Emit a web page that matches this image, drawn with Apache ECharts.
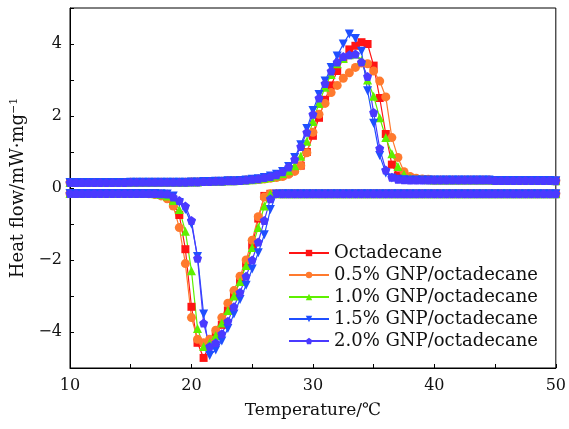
<!DOCTYPE html>
<html>
<head>
<meta charset="utf-8">
<script src="https://cdn.jsdelivr.net/npm/echarts@6/dist/echarts.min.js"></script>
<style>
  html, body { margin: 0; padding: 0; background: #fff; }
  #chart { width: 569px; height: 429px; }
</style>
</head>
<body>
<div id="chart"></div>
<script>
// temperature grid, degC
const temps = [10,10.5,11,11.5,12,12.5,13,13.5,14,14.5,
  15,15.5,16,16.5,17,17.5,18,18.5,19,19.5,
  20,20.5,21,21.5,22,22.5,23,23.5,24,24.5,
  25,25.5,26,26.5,27,27.5,28,28.5,29,29.5,
  30,30.5,31,31.5,32,32.5,33,33.5,34,34.5,
  35,35.5,36,36.5,37,37.5,38,38.5,39,39.5,
  40,40.5,41,41.5,42,42.5,43,43.5,44,44.5,
  45,45.5,46,46.5,47,47.5,48,48.5,49,49.5,50];

const names = ['Octadecane', '0.5% GNP/octadecane', '1.0% GNP/octadecane', '1.5% GNP/octadecane', '2.0% GNP/octadecane'];

// heating curves (upper)
const heatOcta = [.15,.15,.15,.15,.15,.15,.15,.15,.15,.15,
  .16,.16,.16,.16,.16,.16,.16,.16,.16,.16,
  .17,.17,.18,.18,.19,.19,.2,.2,.21,.22,
  .23,.24,.26,.28,.31,.35,.42,.52,.62,1.0,
  1.45,1.95,2.45,2.85,3.25,3.6,3.85,3.95,4.05,4.0,
  3.4,2.5,1.5,.65,.35,.3,.27,.25,.24,.23,
  .22,.22,.22,.22,.22,.22,.22,.22,.22,.22,
  .21,.21,.21,.21,.21,.21,.21,.21,.21,.21,.2];
const heatGnp05 = [.15,.15,.15,.15,.15,.15,.15,.15,.15,.15,
  .16,.16,.16,.16,.16,.16,.16,.16,.16,.16,
  .17,.17,.18,.18,.19,.19,.2,.2,.21,.22,
  .23,.24,.25,.27,.29,.32,.38,.46,.62,.98,
  1.55,2.05,2.35,2.65,2.85,3.05,3.2,3.35,3.47,3.45,
  3.25,2.97,2.53,1.4,.85,.45,.32,.27,.25,.24,
  .22,.22,.22,.22,.22,.22,.22,.22,.22,.22,
  .21,.21,.21,.21,.21,.21,.21,.21,.21,.21,.2];
const heatGnp10 = [.15,.15,.15,.15,.15,.15,.15,.15,.15,.15,
  .16,.16,.16,.16,.16,.16,.16,.16,.16,.16,
  .17,.17,.18,.18,.19,.19,.2,.2,.21,.22,
  .23,.25,.27,.3,.34,.4,.48,.62,.88,1.3,
  1.85,2.35,2.8,3.15,3.45,3.6,3.7,3.72,3.55,3.0,
  2.55,1.95,1.4,.95,.6,.38,.28,.25,.24,.23,
  .22,.22,.22,.22,.22,.22,.22,.22,.22,.22,
  .21,.21,.21,.21,.21,.21,.21,.21,.21,.21,.2];
const heatGnp15 = [.15,.15,.15,.15,.15,.15,.15,.15,.15,.15,
  .16,.16,.16,.16,.16,.16,.16,.16,.16,.16,
  .17,.17,.18,.18,.19,.19,.2,.2,.21,.22,
  .24,.26,.29,.33,.38,.46,.6,.85,1.2,1.65,
  2.15,2.6,2.97,3.35,3.67,4.0,4.28,4.15,3.8,2.7,
  1.8,.9,.42,.28,.24,.23,.22,.22,.22,.22,
  .22,.22,.22,.22,.22,.22,.22,.22,.22,.22,
  .21,.21,.21,.21,.21,.21,.21,.21,.21,.21,.2];
const heatGnp20 = [.15,.15,.15,.15,.15,.15,.15,.15,.15,.15,
  .16,.16,.16,.16,.16,.16,.16,.16,.16,.16,
  .17,.17,.18,.18,.19,.19,.2,.2,.21,.22,
  .24,.26,.29,.32,.37,.45,.58,.8,1.15,1.55,
  2.05,2.5,2.9,3.25,3.5,3.65,3.7,3.72,3.5,3.1,
  2.1,1.1,.5,.3,.24,.23,.22,.22,.22,.22,
  .22,.22,.22,.22,.22,.22,.22,.22,.22,.22,
  .21,.21,.21,.21,.21,.21,.21,.21,.21,.21,.2];

// cooling curves (lower)
const coolOcta = [-.15,-.15,-.15,-.15,-.15,-.15,-.15,-.15,-.15,-.15,
  -.15,-.15,-.15,-.15,-.16,-.18,-.25,-.4,-.75,-1.7,
  -3.3,-4.3,-4.72,-4.35,-4.1,-3.8,-3.4,-3.0,-2.55,-2.1,
  -1.6,-.85,-.22,-.16,-.16,-.16,-.16,-.16,-.16,-.16,
  -.16,-.16,-.16,-.16,-.16,-.16,-.16,-.16,-.16,-.16,
  -.16,-.16,-.16,-.16,-.16,-.16,-.16,-.16,-.16,-.16,
  -.16,-.16,-.16,-.16,-.16,-.16,-.16,-.16,-.16,-.16,
  -.16,-.16,-.16,-.16,-.16,-.16,-.16,-.16,-.16,-.16,-.16];
const coolGnp05 = [-.15,-.15,-.15,-.15,-.15,-.15,-.15,-.15,-.15,-.15,
  -.15,-.15,-.15,-.16,-.18,-.22,-.3,-.5,-1.1,-2.1,
  -3.6,-4.2,-4.3,-4.2,-3.95,-3.6,-3.2,-2.85,-2.45,-2.0,
  -1.45,-.8,-.25,-.16,-.16,-.16,-.16,-.16,-.16,-.16,
  -.16,-.16,-.16,-.16,-.16,-.16,-.16,-.16,-.16,-.16,
  -.16,-.16,-.16,-.16,-.16,-.16,-.16,-.16,-.16,-.16,
  -.16,-.16,-.16,-.16,-.16,-.16,-.16,-.16,-.16,-.16,
  -.16,-.16,-.16,-.16,-.16,-.16,-.16,-.16,-.16,-.16,-.16];
const coolGnp10 = [-.15,-.15,-.15,-.15,-.15,-.15,-.15,-.15,-.15,-.15,
  -.15,-.15,-.15,-.15,-.16,-.18,-.22,-.35,-.6,-1.2,
  -2.3,-3.9,-4.4,-4.3,-4.1,-3.75,-3.4,-3.0,-2.6,-2.15,
  -1.65,-1.1,-.5,-.17,-.16,-.16,-.16,-.16,-.16,-.16,
  -.16,-.16,-.16,-.16,-.16,-.16,-.16,-.16,-.16,-.16,
  -.16,-.16,-.16,-.16,-.16,-.16,-.16,-.16,-.16,-.16,
  -.16,-.16,-.16,-.16,-.16,-.16,-.16,-.16,-.16,-.16,
  -.16,-.16,-.16,-.16,-.16,-.16,-.16,-.16,-.16,-.16,-.16];
const coolGnp15 = [-.15,-.15,-.15,-.15,-.15,-.15,-.15,-.15,-.15,-.15,
  -.15,-.15,-.15,-.15,-.15,-.16,-.17,-.22,-.4,-.6,
  -1.0,-1.9,-3.5,-4.65,-4.5,-4.25,-3.9,-3.5,-3.1,-2.7,
  -2.25,-1.8,-1.3,-.6,-.17,-.16,-.16,-.16,-.16,-.16,
  -.16,-.16,-.16,-.16,-.16,-.16,-.16,-.16,-.16,-.16,
  -.16,-.16,-.16,-.16,-.16,-.16,-.16,-.16,-.16,-.16,
  -.16,-.16,-.16,-.16,-.16,-.16,-.16,-.16,-.16,-.16,
  -.16,-.16,-.16,-.16,-.16,-.16,-.16,-.16,-.16,-.16,-.16];
const coolGnp20 = [-.15,-.15,-.15,-.15,-.15,-.15,-.15,-.15,-.15,-.15,
  -.15,-.15,-.15,-.15,-.15,-.16,-.17,-.25,-.35,-.5,
  -.9,-1.95,-3.75,-4.4,-4.3,-4.05,-3.7,-3.3,-2.9,-2.45,
  -2.0,-1.5,-.9,-.3,-.15,-.16,-.16,-.16,-.16,-.16,
  -.16,-.16,-.16,-.16,-.16,-.16,-.16,-.16,-.16,-.16,
  -.16,-.16,-.16,-.16,-.16,-.16,-.16,-.16,-.16,-.16,
  -.16,-.16,-.16,-.16,-.16,-.16,-.16,-.16,-.16,-.16,
  -.16,-.16,-.16,-.16,-.16,-.16,-.16,-.16,-.16,-.16,-.16];

const heats = [heatOcta, heatGnp05, heatGnp10, heatGnp15, heatGnp20];
const cools = [coolOcta, coolGnp05, coolGnp10, coolGnp15, coolGnp20];

const colors = ['#ff1414', '#ff7a2e', '#5ef000', '#1f4fff', '#4a3aff'];
const symbols = ['rect', 'circle', 'triangle', 'triangle', 'path://M0,-1L0.95,-0.31L0.59,0.81L-0.59,0.81L-0.95,-0.31Z'];
const rotates = [0, 0, 0, 180, 0];
const sizes = [8, 9, 9, 9, 9];

const FONT = 'DejaVu Serif';

function pairs(ys) {
  return temps.map((t, i) => [t, ys[i]]);
}

function fmt(v) {
  return v < 0 ? '\u2212' + (-v) : String(v);
}

let series = [];
for (let k = 0; k < names.length; k++) {
  [heats[k], cools[k]].forEach(function (ys) {
    series.push({
      name: names[k],
      type: 'line',
      data: pairs(ys),
      symbol: symbols[k],
      symbolRotate: rotates[k],
      symbolSize: sizes[k],
      showSymbol: true,
      showAllSymbol: true,
      color: colors[k],
      lineStyle: { width: 1.2, color: colors[k] },
      itemStyle: { color: colors[k] },
      animation: false
    });
  });
}

let myChart = echarts.init(document.getElementById('chart'));
let option = {
  backgroundColor: '#fff',
  animation: false,
  grid: {
    left: 70, right: 12, top: 8, bottom: 61,
    show: true, borderColor: '#000', borderWidth: 1
  },
  legend: {
    data: names,
    orient: 'vertical',
    left: 283,
    top: 239,
    itemWidth: 40,
    itemHeight: 8,
    itemGap: 4,
    textStyle: { fontFamily: FONT, fontSize: 18, color: '#111' }
  },
  xAxis: {
    type: 'value',
    min: 10, max: 50, interval: 5,
    name: 'Temperature/\u2103',
    nameLocation: 'middle',
    nameGap: 34,
    nameTextStyle: { fontFamily: FONT, fontSize: 17, color: '#111' },
    axisLine: { onZero: false, lineStyle: { color: '#000', width: 1 } },
    axisTick: { inside: true, length: 4, lineStyle: { color: '#000' } },
    axisLabel: {
      fontFamily: FONT, fontSize: 16, color: '#111', margin: 10,
      formatter: function (v) { return v % 10 === 0 ? fmt(v) : ''; }
    },
    splitLine: { show: false }
  },
  yAxis: {
    type: 'value',
    min: -5, max: 5, interval: 1,
    name: 'Heat flow/mW\u00b7mg{sup|\u22121}',
    nameLocation: 'middle',
    nameGap: 40,
    nameRotate: 90,
    nameTextStyle: {
      fontFamily: FONT, fontSize: 18, color: '#111',
      rich: { sup: { fontFamily: FONT, fontSize: 11, color: '#111', verticalAlign: 'top', padding: [0, 0, 8, 0] } }
    },
    axisLine: { lineStyle: { color: '#000', width: 1 } },
    axisTick: { inside: true, length: 4, lineStyle: { color: '#000' } },
    axisLabel: {
      fontFamily: FONT, fontSize: 16, color: '#111', margin: 8,
      formatter: function (v) { return v % 2 === 0 ? fmt(v) : ''; }
    },
    splitLine: { show: false }
  },
  series: series
};
myChart.setOption(option, true);
</script>
</body>
</html>
